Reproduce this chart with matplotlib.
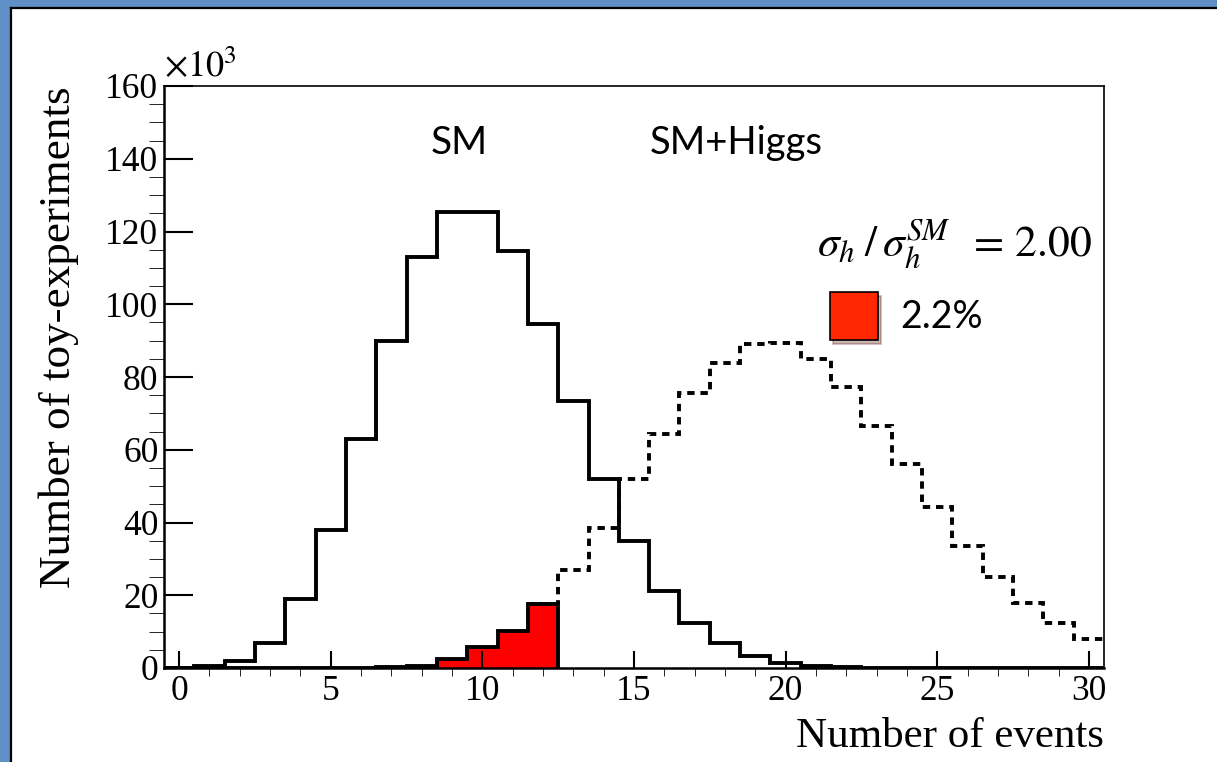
import numpy as np
import matplotlib
matplotlib.use('Agg')
import matplotlib.pyplot as plt
from matplotlib.patches import Rectangle, Shadow
from matplotlib.lines import Line2D

plt.rcParams['mathtext.fontset'] = 'stix'
plt.rcParams['font.family'] = 'Liberation Serif'

# bin edges: one bin per event count, 0..30
edges = np.arange(-0.5, 31.5, 1.0)

# SM-only toy experiments (x10^3 per bin)
sm = [0, 0.5, 2, 7, 19, 38, 63, 90, 113, 125.3, 125.3, 114.7, 94.5, 73.4, 52,
      34.8, 21.2, 12.4, 6.9, 3.4, 1.3, 0.6, 0.2, 0, 0, 0, 0, 0, 0, 0, 0]

# SM+Higgs toy experiments (x10^3 per bin)
higgs = [0, 0, 0, 0, 0, 0, 0.1, 0.3, 0.6, 2.5, 5.7, 10.2, 17.5, 27, 38.6,
         52, 64.3, 75.6, 83.8, 89, 89.4, 85, 77.2, 66.5, 56, 44.2, 33.5,
         25.1, 17.8, 12.3, 7.9]

n_obs = 12          # last bin of the shaded tail
ratio = 2.00
tail_frac = '2.2%'

W, H = 1217, 762
fig = plt.figure(figsize=(W / 100, H / 100), dpi=100, facecolor='#5E8FC6')

# slide-like white panel with black edge
fig.patches.append(Rectangle((12 / W, 0), 1, (H - 9) / H, transform=fig.transFigure,
                             facecolor='white', edgecolor='none', zorder=-10))
fig.add_artist(Line2D([11 / W, 11 / W], [0, (H - 8) / H], color='black', lw=1.6, zorder=-9))
fig.add_artist(Line2D([11 / W, 1], [(H - 8) / H, (H - 8) / H], color='black', lw=1.6, zorder=-9))

ax = fig.add_axes([164 / W, 1 - 668 / H, 940 / W, 582 / H])
ax.set_zorder(1)

lw = 2.8
k = n_obs + 1
# SM+Higgs, dashed above the observed count
ax.stairs(higgs[n_obs:], edges[n_obs:], baseline=None, color='black', lw=lw,
          linestyle=(0, (1.9, 1.5)), zorder=2)
# shaded tail
ax.stairs(higgs[:k], edges[:k + 1], fill=True, color='red', zorder=3)
ax.stairs(higgs[:k], edges[:k + 1], color='black', lw=lw, zorder=4)
# SM only
ax.stairs(sm, edges, baseline=None, color='black', lw=lw, zorder=5)

ax.set_xlim(-0.5, 30.5)
ax.set_ylim(0, 160)
ax.xaxis.set_major_locator(plt.MultipleLocator(5))
ax.xaxis.set_minor_locator(plt.MultipleLocator(1))
ax.yaxis.set_major_locator(plt.MultipleLocator(20))
ax.yaxis.set_minor_locator(plt.MultipleLocator(5))
ax.tick_params(direction='in', top=False, right=False, labelsize=25.5, width=1.5)
ax.tick_params(axis='x', which='major', length=12, pad=5)
ax.tick_params(axis='x', which='minor', length=6)
ax.tick_params(axis='y', which='major', length=21, pad=4)
ax.tick_params(axis='y', which='minor', length=11)
for s in ['left', 'bottom']:
    ax.spines[s].set_linewidth(1.8)
for s in ['top', 'right']:
    ax.spines[s].set_linewidth(1.2)
for s in ax.spines.values():
    s.set_zorder(6)
ax.xaxis.set_zorder(6)
ax.yaxis.set_zorder(6)

ax.set_xlabel('Number of events', fontsize=31, loc='right')
ax.set_ylabel('Number of toy-experiments', fontsize=32.5, loc='top')
ax.xaxis.set_label_coords(1.0, -0.085)
ax.yaxis.set_label_coords(-0.09, 1.0)

ax.text(0, 1.002, r'$\times10^{3}$', transform=ax.transAxes, fontsize=26,
        ha='left', va='bottom')

sans = 'Lato'
ax.text(459 / W, 1 - 143 / H, 'SM', transform=fig.transFigure, fontsize=28,
        family=sans, ha='center', va='center')
ax.text(736 / W, 1 - 143 / H, 'SM+Higgs', transform=fig.transFigure, fontsize=27.5,
        family=sans, ha='center', va='center')
ax.text(1092 / W, 1 - 243 / H,
        r'$\sigma_h\;/\,\sigma_h^{SM}\;\;=\,%.2f$' % ratio,
        transform=fig.transFigure, fontsize=31.5, ha='right', va='center')

# legend box for the tail
box = Rectangle((830 / W, 1 - 340 / H), 48 / W, 48 / H, transform=fig.transFigure,
                facecolor='#FF2600', edgecolor='black', lw=1.2, zorder=10)
shadow = Shadow(box, 2 / W, -3 / H, alpha=0.3, transform=fig.transFigure)
shadow.set_zorder(9)
fig.patches.append(shadow)
fig.patches.append(box)
ax.text(900 / W, 1 - 317 / H, tail_frac, transform=fig.transFigure, fontsize=27,
        family=sans, ha='left', va='center')

fig.savefig('out.png', dpi=100, facecolor=fig.get_facecolor())
